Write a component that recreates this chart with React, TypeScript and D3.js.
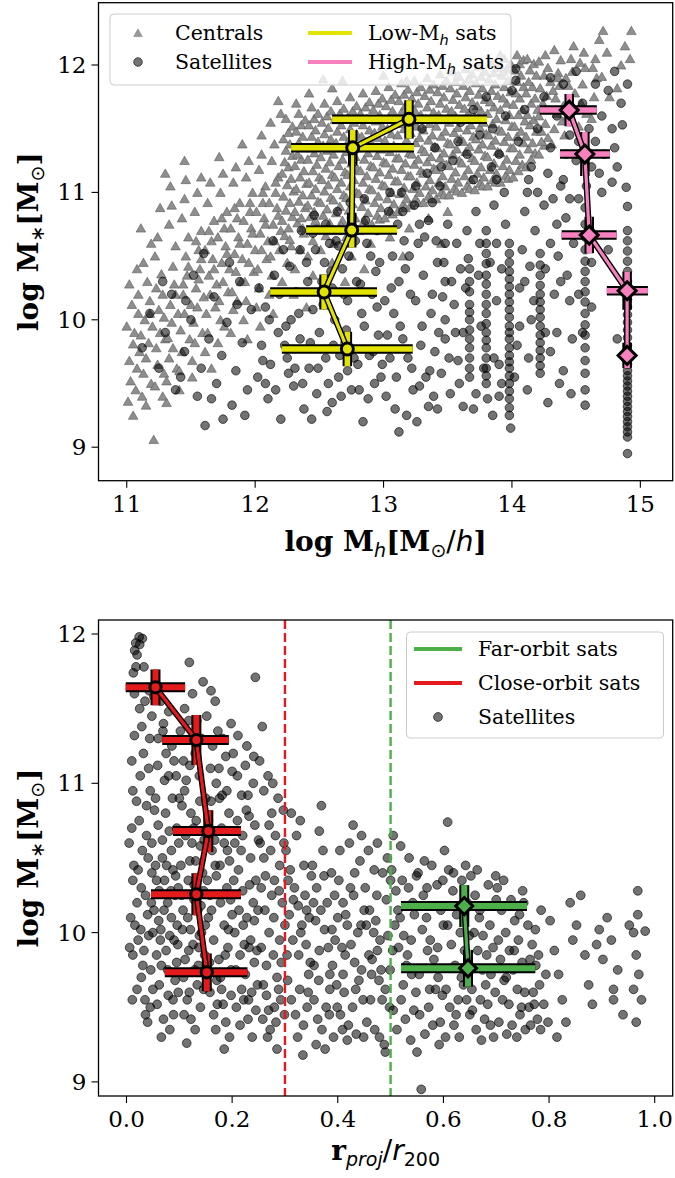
import React from "react";
import * as d3 from "d3";

type P = [number, number];
type E = { x: number; y: number; xlo: number; xhi: number; yerr: number };

// ---------- DATA ----------
// Top panel: centrals (log Mh, log M*)
const centralsLow: P[] = [
  [11.01,9.36],[11.03,9.52],[11.02,9.68],[11.05,9.81],[11.0,9.95],[11.04,10.12],[11.07,9.45],[11.08,9.62],[11.06,9.9],[11.09,10.05],[11.02,10.28],[11.08,10.4],[11.05,9.25],[11.1,9.75],[11.09,10.2],
  [11.12,9.4],[11.13,9.58],[11.15,9.7],[11.11,9.88],[11.14,10.0],[11.18,10.15],[11.16,10.3],[11.19,9.5],[11.17,9.82],[11.13,10.45],[11.19,10.6],[11.15,9.33],[11.2,9.95],[11.11,10.72],[11.18,10.05],
  [11.21,9.06],[11.22,9.48],[11.24,9.65],[11.23,9.78],[11.26,9.9],[11.25,10.08],[11.28,10.2],[11.27,10.36],[11.22,10.5],[11.29,9.58],[11.24,10.65],[11.3,9.85],[11.26,10.88],[11.28,9.4],[11.23,10.25],[11.29,10.02],
  [11.31,9.52],[11.33,9.7],[11.32,9.86],[11.35,9.98],[11.34,10.12],[11.37,10.28],[11.36,10.42],[11.38,10.58],[11.33,10.75],[11.39,9.62],[11.35,10.9],[11.4,10.05],[11.31,9.35],[11.38,10.2],[11.36,9.78],[11.34,11.05],
  [11.41,9.6],[11.43,9.75],[11.42,9.92],[11.45,10.05],[11.44,10.2],[11.47,10.35],[11.46,10.5],[11.48,10.65],[11.43,10.8],[11.49,9.85],[11.45,10.95],[11.5,10.12],[11.41,9.45],[11.48,10.42],[11.46,11.1],[11.44,10.28],
  [11.51,9.68],[11.53,9.82],[11.52,9.98],[11.55,10.1],[11.54,10.25],[11.57,10.4],[11.56,10.55],[11.58,10.7],[11.53,10.85],[11.59,9.9],[11.55,11.0],[11.6,10.18],[11.51,9.55],[11.58,10.48],[11.56,10.32],[11.54,10.62],
  [11.61,9.75],[11.63,9.9],[11.62,10.05],[11.65,10.2],[11.64,10.35],[11.67,10.48],[11.66,10.62],[11.68,10.78],[11.63,10.92],[11.69,10.1],[11.65,11.08],[11.7,10.28],[11.61,10.55],[11.68,10.4],[11.66,9.62],[11.64,10.7],
  [11.71,9.82],[11.73,10.0],[11.72,10.15],[11.75,10.3],[11.74,10.45],[11.77,10.58],[11.76,10.72],[11.78,10.85],[11.73,11.0],[11.79,10.22],[11.75,11.15],[11.8,10.4],[11.71,10.65],[11.78,10.52],[11.76,9.95],[11.74,10.8],
  [11.81,9.9],[11.83,10.08],[11.82,10.22],[11.85,10.38],[11.84,10.52],[11.87,10.65],[11.86,10.8],[11.88,10.92],[11.83,11.08],[11.89,10.3],[11.85,11.2],[11.9,10.48],[11.81,10.72],[11.88,10.6],[11.86,10.15],[11.84,10.88],
  [11.91,10.0],[11.93,10.15],[11.92,10.3],[11.95,10.45],[11.94,10.6],[11.97,10.72],[11.96,10.85],[11.98,11.0],[11.93,11.12],[11.99,10.38],[11.95,11.25],[12.0,10.55],[11.91,10.78],[11.98,10.68],[11.96,10.92],[11.94,9.85],
  [12.01,10.1],[12.03,10.25],[12.02,10.4],[12.05,10.55],[12.04,10.68],[12.07,10.8],[12.06,10.92],[12.08,11.05],[12.03,11.18],[12.09,10.48],[12.05,11.3],[12.1,10.62],[12.01,10.85],[12.08,10.75],[12.06,11.0],[12.04,9.95],
  [12.11,10.2],[12.13,10.35],[12.12,10.5],[12.15,10.62],[12.14,10.75],[12.17,10.88],[12.16,11.0],[12.18,11.12],[12.13,11.25],[12.19,10.55],[12.15,11.38],[12.2,10.7],[12.11,10.92],[12.18,10.82],[12.16,11.08],[12.14,10.05],
  [11.58,11.12],[11.72,11.28],[11.9,11.38],[12.05,11.45],[12.12,11.55],[12.2,11.62],[12.32,11.7],[12.42,11.78],[12.18,11.72],[12.6,11.82],[12.68,11.88],[11.45,11.25],[11.3,11.15],
];
const centralsCore: P[] = [
  [12.21,10.3],[12.25,10.45],[12.28,10.58],[12.23,10.66],[12.26,10.72],[12.21,10.78],[12.29,10.81],[12.24,10.86],[12.27,10.92],[12.22,10.97],[12.3,11.01],[12.25,11.06],[12.28,11.11],[12.21,11.15],[12.26,11.2],[12.23,11.24],[12.29,11.29],[12.24,11.33],[12.27,11.38],[12.22,11.42],[12.26,11.47],[12.29,11.52],[12.24,11.58],[12.27,10.63],
  [12.31,10.4],[12.35,10.55],[12.38,10.68],[12.33,10.76],[12.36,10.8],[12.31,10.85],[12.39,10.88],[12.34,10.93],[12.37,10.98],[12.32,11.03],[12.4,11.07],[12.35,11.12],[12.38,11.17],[12.31,11.21],[12.36,11.26],[12.33,11.3],[12.39,11.35],[12.34,11.39],[12.37,11.44],[12.32,11.48],[12.36,11.53],[12.39,11.57],[12.34,11.62],[12.37,10.72],
  [12.41,10.5],[12.45,10.62],[12.48,10.74],[12.43,10.81],[12.46,10.85],[12.41,10.9],[12.49,10.93],[12.44,10.98],[12.47,11.03],[12.42,11.08],[12.5,11.12],[12.45,11.17],[12.48,11.22],[12.41,11.26],[12.46,11.31],[12.43,11.35],[12.49,11.4],[12.44,11.44],[12.47,11.49],[12.42,11.53],[12.46,11.58],[12.49,11.62],[12.44,11.67],[12.47,10.78],
  [12.51,10.55],[12.55,10.66],[12.58,10.76],[12.53,10.82],[12.56,10.87],[12.51,10.92],[12.59,10.96],[12.54,11.01],[12.57,11.06],[12.52,11.1],[12.6,11.14],[12.55,11.19],[12.58,11.24],[12.51,11.28],[12.56,11.33],[12.53,11.37],[12.59,11.42],[12.54,11.46],[12.57,11.51],[12.52,11.55],[12.56,11.6],[12.59,11.64],[12.54,11.7],[12.57,10.7],
  [12.61,10.6],[12.65,10.7],[12.68,10.78],[12.63,10.84],[12.66,10.89],[12.61,10.94],[12.69,10.98],[12.64,11.03],[12.67,11.08],[12.62,11.12],[12.7,11.16],[12.65,11.21],[12.68,11.26],[12.61,11.3],[12.66,11.35],[12.63,11.39],[12.69,11.44],[12.64,11.48],[12.67,11.53],[12.62,11.57],[12.66,11.62],[12.69,11.66],[12.64,11.72],[12.67,10.74],
  [12.71,10.65],[12.75,10.74],[12.78,10.8],[12.73,10.86],[12.76,10.91],[12.71,10.96],[12.79,11.0],[12.74,11.05],[12.77,11.1],[12.72,11.14],[12.8,11.18],[12.75,11.23],[12.78,11.28],[12.71,11.32],[12.76,11.37],[12.73,11.41],[12.79,11.46],[12.74,11.5],[12.77,11.55],[12.72,11.59],[12.76,11.64],[12.79,11.68],[12.74,11.75],[12.77,10.7],
  [12.81,10.7],[12.85,10.78],[12.88,10.84],[12.83,10.89],[12.86,10.94],[12.81,10.99],[12.89,11.03],[12.84,11.08],[12.87,11.13],[12.82,11.17],[12.9,11.21],[12.85,11.26],[12.88,11.31],[12.81,11.35],[12.86,11.4],[12.83,11.44],[12.89,11.49],[12.84,11.53],[12.87,11.58],[12.82,11.62],[12.86,11.67],[12.89,11.71],[12.84,11.78],[12.87,10.74],
  [12.91,10.75],[12.95,10.82],[12.98,10.88],[12.93,10.92],[12.96,10.97],[12.91,11.02],[12.99,11.06],[12.94,11.11],[12.97,11.16],[12.92,11.2],[13.0,11.24],[12.95,11.29],[12.98,11.34],[12.91,11.38],[12.96,11.43],[12.93,11.47],[12.99,11.52],[12.94,11.56],[12.97,11.61],[12.92,11.65],[12.96,11.7],[12.99,11.74],[12.94,11.8],[12.97,10.79],
  [13.01,10.8],[13.05,10.86],[13.08,10.91],[13.03,10.95],[13.06,11.0],[13.01,11.05],[13.09,11.09],[13.04,11.14],[13.07,11.19],[13.02,11.23],[13.1,11.27],[13.05,11.32],[13.08,11.37],[13.01,11.41],[13.06,11.46],[13.03,11.5],[13.09,11.55],[13.04,11.59],[13.07,11.64],[13.02,11.68],[13.06,11.73],[13.09,11.77],[13.04,11.83],[13.07,10.83],
  [13.11,10.85],[13.15,10.9],[13.18,10.95],[13.13,10.99],[13.16,11.04],[13.11,11.09],[13.19,11.13],[13.14,11.18],[13.17,11.23],[13.12,11.27],[13.2,11.31],[13.15,11.36],[13.18,11.41],[13.11,11.45],[13.16,11.5],[13.13,11.54],[13.19,11.59],[13.14,11.63],[13.17,11.68],[13.12,11.72],[13.16,11.77],[13.19,11.81],[13.14,11.86],[13.17,10.88],
  [13.21,10.9],[13.25,10.95],[13.28,11.0],[13.23,11.03],[13.26,11.08],[13.21,11.13],[13.29,11.17],[13.24,11.22],[13.27,11.26],[13.22,11.3],[13.3,11.34],[13.25,11.39],[13.28,11.43],[13.21,11.47],[13.26,11.52],[13.23,11.56],[13.29,11.61],[13.24,11.65],[13.27,11.7],[13.22,11.74],[13.26,11.79],[13.29,11.83],[13.24,11.88],[13.27,10.92],
  [13.31,10.92],[13.35,10.97],[13.38,11.02],[13.33,11.05],[13.36,11.1],[13.31,11.15],[13.39,11.19],[13.34,11.24],[13.37,11.28],[13.32,11.32],[13.4,11.36],[13.35,11.41],[13.38,11.45],[13.31,11.49],[13.36,11.54],[13.33,11.58],[13.39,11.63],[13.34,11.67],[13.37,11.72],[13.32,11.76],[13.36,11.81],[13.39,11.85],[13.34,11.9],[13.37,10.95],
  [13.41,10.95],[13.45,11.0],[13.48,11.05],[13.43,11.08],[13.46,11.13],[13.41,11.18],[13.49,11.22],[13.44,11.27],[13.47,11.31],[13.42,11.35],[13.5,11.39],[13.45,11.44],[13.48,11.48],[13.41,11.52],[13.46,11.57],[13.43,11.61],[13.49,11.66],[13.44,11.7],[13.47,11.75],[13.42,11.79],[13.46,11.84],[13.49,11.88],[13.44,11.93],[13.47,10.98],
  [13.51,10.98],[13.55,11.03],[13.58,11.08],[13.53,11.11],[13.56,11.16],[13.51,11.21],[13.59,11.25],[13.54,11.3],[13.57,11.34],[13.52,11.38],[13.6,11.42],[13.55,11.47],[13.58,11.51],[13.51,11.55],[13.56,11.6],[13.53,11.64],[13.59,11.69],[13.54,11.73],[13.57,11.78],[13.52,11.82],[13.56,11.87],[13.59,11.91],[13.54,11.95],[13.57,11.01],
  [13.61,11.0],[13.65,11.05],[13.68,11.1],[13.63,11.13],[13.66,11.18],[13.61,11.23],[13.69,11.27],[13.64,11.32],[13.67,11.36],[13.62,11.4],[13.7,11.44],[13.65,11.49],[13.68,11.53],[13.61,11.57],[13.66,11.62],[13.63,11.66],[13.69,11.71],[13.64,11.75],[13.67,11.8],[13.62,11.84],[13.66,11.89],[13.69,11.93],[13.64,11.97],[13.67,11.03],
  [13.71,11.02],[13.75,11.07],[13.78,11.12],[13.73,11.15],[13.76,11.2],[13.71,11.25],[13.79,11.29],[13.74,11.34],[13.77,11.38],[13.72,11.42],[13.8,11.46],[13.75,11.51],[13.78,11.55],[13.71,11.59],[13.76,11.64],[13.73,11.68],[13.79,11.73],[13.74,11.77],[13.77,11.82],[13.72,11.86],[13.76,11.91],[13.79,11.95],[13.74,11.99],[13.77,11.05],
  [13.81,11.05],[13.85,11.1],[13.88,11.15],[13.83,11.18],[13.86,11.23],[13.81,11.28],[13.89,11.32],[13.84,11.37],[13.87,11.41],[13.82,11.45],[13.9,11.49],[13.85,11.54],[13.88,11.58],[13.81,11.62],[13.86,11.67],[13.83,11.71],[13.89,11.76],[13.84,11.8],[13.87,11.85],[13.82,11.89],[13.86,11.94],[13.89,11.98],[13.84,12.02],[13.87,11.08],
  [13.91,11.08],[13.95,11.13],[13.98,11.18],[13.93,11.21],[13.96,11.26],[13.91,11.31],[13.99,11.35],[13.94,11.4],[13.97,11.44],[13.92,11.48],[14.0,11.52],[13.95,11.57],[13.98,11.61],[13.91,11.65],[13.96,11.7],[13.93,11.74],[13.99,11.79],[13.94,11.83],[13.97,11.88],[13.92,11.92],[13.96,11.97],[13.99,12.01],[13.94,12.05],[13.97,11.11],
  [14.01,11.12],[14.05,11.17],[14.08,11.22],[14.03,11.25],[14.06,11.3],[14.01,11.35],[14.09,11.39],[14.04,11.44],[14.07,11.48],[14.02,11.52],[14.1,11.56],[14.05,11.61],[14.08,11.65],[14.01,11.69],[14.06,11.74],[14.03,11.78],[14.09,11.83],[14.04,11.87],[14.07,11.92],[14.02,11.96],[14.06,12.01],[14.09,12.04],[14.04,12.08],
  [14.11,11.2],[14.15,11.26],[14.18,11.31],[14.13,11.34],[14.16,11.39],[14.11,11.44],[14.19,11.48],[14.14,11.53],[14.17,11.57],[14.12,11.61],[14.2,11.65],[14.15,11.7],[14.18,11.74],[14.11,11.78],[14.16,11.83],[14.13,11.87],[14.19,11.92],[14.14,11.96],[14.17,12.01],[14.12,12.05],
  [14.21,11.3],[14.25,11.37],[14.28,11.43],[14.23,11.48],[14.26,11.54],[14.21,11.6],[14.29,11.65],[14.24,11.7],[14.27,11.76],[14.22,11.82],[14.3,11.87],[14.25,11.92],[14.28,11.98],[14.21,12.03],[14.26,12.08],[14.23,11.4],
];
const centralsHigh: P[] = [
  [14.31,11.38],[14.33,11.5],[14.35,11.62],[14.34,11.74],[14.37,11.84],[14.36,11.94],[14.38,12.04],[14.33,12.12],[14.39,11.56],[14.32,11.8],[14.4,11.68],[14.36,11.9],
  [14.41,11.45],[14.43,11.6],[14.45,11.72],[14.44,11.84],[14.47,11.95],[14.46,12.05],[14.48,12.15],[14.42,11.9],[14.49,11.78],
  [14.52,11.52],[14.54,11.7],[14.55,11.85],[14.57,11.98],[14.56,12.1],[14.58,11.62],[14.53,12.02],
  [14.62,11.58],[14.64,11.75],[14.66,11.9],[14.65,12.05],[14.68,12.2],[14.63,11.98],
  [14.71,12.27],[14.7,11.91],[14.74,12.1],[14.76,11.75],[14.82,11.82],[14.85,12.0],[14.88,12.15],[14.92,12.05],[14.93,12.27],
  [12.53,11.89],[13.0,11.92],[13.18,11.88],[13.58,11.92],[13.67,11.89],[13.91,12.08],[13.93,11.95],
  [12.3,10.2],[12.45,10.35],[12.6,10.45],[12.75,10.5],[12.9,10.6],[13.05,10.65],[13.2,10.72],[13.35,10.8],[13.5,10.85],[12.55,10.25],[12.85,10.4],[13.15,10.5],[13.45,10.6],[12.4,10.1],[12.7,10.3],
];

// Top panel: satellites (log Mh, log M*)
const satsTop: P[] = [
  [11.12,9.78],[11.18,10.05],[11.25,9.62],[11.3,9.9],[11.35,10.2],[11.42,9.55],[11.45,9.75],[11.5,10.0],[11.55,9.4],[11.58,9.62],[11.61,9.17],[11.64,9.85],[11.68,10.18],[11.7,9.5],[11.74,9.72],[11.78,9.98],[11.82,9.33],[11.85,9.6],[11.88,10.3],[11.9,9.82],[11.94,9.45],[11.97,10.08],[11.52,10.35],[11.38,9.45],[11.66,9.38],[11.8,10.45],[11.92,9.25],[11.6,10.52],[11.75,9.22],[11.86,10.12],[11.46,10.15],[11.28,10.3],
  [12.02,9.55],[12.05,9.8],[12.08,10.1],[12.1,9.38],[12.12,9.65],[12.15,10.35],[12.18,9.9],[12.2,9.22],[12.22,10.55],[12.25,9.7],[12.28,10.0],[12.3,9.48],[12.32,10.22],[12.35,9.85],[12.38,9.3],[12.4,10.45],[12.42,9.62],[12.45,10.08],[12.48,9.42],[12.5,9.9],[12.52,10.3],[12.55,9.7],[12.58,10.6],[12.6,9.35],[12.62,10.0],[12.65,9.55],[12.68,10.4],[12.7,9.82],[12.72,10.15],[12.75,9.45],[12.78,10.62],[12.8,9.65],[12.82,10.28],[12.85,9.95],[12.88,9.38],[12.9,10.5],[12.92,9.75],[12.95,10.1],[12.98,9.55],[12.08,9.5],[12.26,9.58],[12.44,9.22],[12.56,9.28],[12.66,9.72],[12.84,9.2],[12.96,9.88],[12.36,10.7],[12.46,10.82],[12.64,10.85],[12.86,10.78],[12.14,10.62],[12.54,10.45],[12.74,10.92],[12.94,10.38],[12.24,9.95],[12.72,9.6],[12.6,10.25],
  [12.03,10.25],[12.06,9.68],[12.11,10.0],[12.16,9.45],[12.19,10.2],[12.23,9.8],[12.27,10.42],[12.31,9.62],[12.34,10.05],[12.37,9.5],[12.41,10.3],[12.43,9.82],[12.47,10.55],[12.49,9.62],[12.53,10.12],[12.57,9.5],[12.59,10.38],[12.61,9.8],[12.63,10.62],[12.67,9.4],[12.69,10.2],[12.71,9.92],[12.73,10.5],[12.77,9.7],[12.79,10.3],[12.81,9.45],[12.83,10.05],[12.87,10.6],[12.89,9.72],[12.91,10.2],[12.93,9.5],[12.97,10.45],[12.99,9.65],
  [13.01,10.15],[13.03,9.88],[13.07,10.5],[13.09,9.3],[13.11,10.75],[13.13,9.95],[13.17,10.4],[13.19,9.7],[13.21,10.2],[13.23,9.45],[13.27,10.6],[13.29,9.8],[13.31,10.35],[13.33,9.55],[13.37,10.05],[13.39,9.4],[13.41,10.62],[13.43,9.9],[13.47,10.45],[13.51,9.7],[13.53,10.3],[13.57,10.6],[13.59,9.5],
  [12.35,10.55],[12.55,10.75],[12.75,10.8],[12.95,10.7],[13.15,10.85],[13.35,10.78],[12.45,10.68],[12.65,10.58],[12.85,10.95],[13.05,11.0],[13.25,11.05],[13.45,11.2],
  [13.02,9.4],[13.05,9.7],[13.08,10.05],[13.1,9.55],[13.12,10.3],[13.15,9.85],[13.18,9.25],[13.2,10.5],[13.22,9.62],[13.25,10.15],[13.28,9.48],[13.3,9.95],[13.32,10.65],[13.35,9.32],[13.38,10.2],[13.4,9.75],[13.42,10.45],[13.45,9.58],[13.48,10.0],[13.48,10.3],[13.48,10.6],[13.48,9.85],[13.5,10.75],[13.52,9.42],[13.55,10.12],[13.58,9.68],[13.6,10.4],[13.04,10.85],[13.14,11.0],[13.24,10.9],[13.34,11.15],[13.44,11.05],[13.54,11.25],[13.38,10.92],[13.58,11.4],[13.28,10.75],[13.16,10.62],[13.46,10.18],[13.36,9.6],[13.56,9.9],[13.06,10.25],[13.26,9.2],[13.42,9.3],[13.12,9.12],
  [13.67,9.55],[13.67,9.7],[13.67,9.85],[13.67,10.0],[13.67,10.12],[13.67,10.3],[13.66,10.48],[13.67,9.62],[13.67,9.78],[13.67,9.92],[13.67,10.06],[13.67,10.22],[13.67,10.4],
  [13.8,9.5],[13.8,9.62],[13.8,9.78],[13.8,9.9],[13.8,10.05],[13.8,10.2],[13.8,10.35],[13.8,10.52],[13.8,10.7],[13.81,9.38],[13.8,9.56],[13.8,9.7],[13.8,9.84],[13.8,9.97],[13.8,10.12],[13.8,10.28],[13.8,10.44],[13.8,10.6],
  [13.98,9.25],[13.98,9.38],[13.98,9.5],[13.98,9.62],[13.98,9.72],[13.98,9.85],[13.98,9.95],[13.98,10.08],[13.98,10.2],[13.98,10.32],[13.98,10.45],[13.98,10.6],[13.99,9.15],[13.98,9.31],[13.98,9.44],[13.98,9.56],[13.98,9.67],[13.98,9.78],[13.98,9.9],[13.98,10.02],[13.98,10.14],[13.98,10.26],[13.98,10.38],[13.98,10.52],
  [13.62,9.32],[13.72,9.42],[13.75,10.6],[13.85,9.25],[13.88,10.15],[13.9,9.65],[13.92,10.4],[13.72,10.85],[13.86,10.9],[13.94,11.0],[13.7,11.1],[13.84,11.2],[13.65,10.7],[13.76,9.95],[13.9,9.4],[14.04,9.8],[14.06,10.25],[14.08,10.55],
  [13.62,9.9],[13.64,10.25],[13.7,9.3],[13.74,10.35],[13.78,9.62],[13.83,10.45],[13.86,9.7],[13.88,10.6],[13.92,9.5],[13.95,10.75],[14.02,9.55],[14.06,9.95],[14.1,10.3],[14.13,9.7],[14.17,10.15],[14.26,10.4],[14.3,9.75],[14.33,10.2],[14.37,9.5],[14.43,10.35],[14.47,9.85],[14.35,10.75],[14.25,10.9],[14.45,10.95],[14.13,11.1],[14.28,11.15],[14.42,11.3],[14.52,11.4],[14.65,11.4],[14.7,11.0],[14.78,11.5],[14.82,11.2],
  [14.22,9.58],[14.22,9.7],[14.22,9.82],[14.22,9.95],[14.22,10.08],[14.22,10.2],[14.22,10.35],[14.22,10.52],[14.22,9.64],[14.22,9.76],[14.22,9.88],[14.22,10.02],[14.22,10.14],[14.22,10.27],[14.22,10.43],
  [14.12,9.45],[14.15,10.0],[14.18,10.7],[14.28,9.35],[14.3,10.6],[14.35,9.9],[14.38,10.3],[14.4,9.6],[14.42,10.8],[14.45,10.15],[14.14,10.42],[14.32,10.95],[14.26,9.9],[14.1,10.85],[14.46,9.42],[14.36,10.5],[14.2,11.0],[14.4,11.1],[14.48,10.6],
  [14.57,9.33],[14.57,9.45],[14.57,9.58],[14.57,9.68],[14.57,9.78],[14.57,9.88],[14.57,9.96],[14.57,10.05],[14.57,10.14],[14.57,10.22],[14.57,10.3],[14.57,10.38],[14.57,10.46],[14.57,10.55],[14.57,10.65],[14.57,10.75],[14.57,10.88],[14.52,10.2],[14.55,9.9],[14.62,10.1],[14.6,10.7],[14.52,10.95],[14.62,10.45],[14.58,11.05],
  [14.9,8.95],[14.9,9.08],[14.9,9.12],[14.9,9.16],[14.9,9.2],[14.9,9.24],[14.9,9.28],[14.9,9.32],[14.9,9.36],[14.9,9.4],[14.9,9.44],[14.9,9.48],[14.9,9.52],[14.9,9.56],[14.9,9.6],[14.9,9.65],[14.9,9.7],[14.9,9.75],[14.9,9.8],[14.9,9.86],[14.9,9.92],[14.9,9.98],[14.9,10.04],[14.9,10.1],[14.9,10.16],[14.9,10.22],[14.9,10.3],[14.9,10.38],[14.9,10.46],[14.9,10.54],[14.9,10.62],[14.9,10.7],[14.9,10.89],[14.89,11.04],[14.78,11.08],[14.86,11.53],[14.8,11.35],[14.75,10.55],[14.82,9.85],
  [13.6,11.55],[13.65,11.3],[13.7,11.65],[13.75,11.45],[13.8,11.75],[13.85,11.5],[13.9,11.3],[13.95,11.6],[14.0,11.8],[14.05,11.4],[14.1,11.65],[14.15,11.2],[14.2,11.5],[14.25,11.75],[14.3,11.35],[14.35,11.6],[14.4,11.85],[14.45,11.45],[14.5,11.25],[14.55,11.7],[14.6,11.5],[14.65,11.85],[14.7,11.6],[14.72,11.3],[14.68,11.15],[14.3,11.9],[14.5,11.95],[14.75,11.8],[14.85,11.7],[14.8,11.95],[14.9,11.85],[13.88,11.1],[14.12,11.0],[14.38,11.05],[14.62,11.2],[13.4,11.35],[13.3,11.5],[14.03,11.97],[14.03,11.88],
];

// Bottom panel: satellites (r_proj / r200, log M*)
const satsBottom: P[] = [
  [0.012,10.95],[0.015,11.32],[0.02,11.86],[0.025,11.93],[0.018,11.78],[0.03,11.97],[0.01,10.7],[0.014,10.45],[0.02,10.2],[0.016,10.05],[0.022,9.95],[0.012,9.85],[0.028,9.7],[0.035,9.55],[0.04,9.4],[0.045,9.5],[0.03,10.55],[0.038,10.85],[0.042,11.1],[0.025,11.5],[0.035,11.55],[0.048,11.45],[0.015,11.6],[0.032,11.2],[0.045,10.95],[0.028,10.3],[0.04,10.12],[0.048,10.4],[0.033,9.88],[0.046,9.75],[0.02,9.62],[0.038,10.65],[0.026,11.05],[0.044,11.3],[0.05,10.0],[0.012,10.35],[0.036,9.45],[0.042,9.98],[0.024,10.75],[0.048,10.6],
  [0.024,11.98],[0.0175,11.94],[0.0155,11.89],[0.119,11.81],[0.013,11.74],[0.033,11.78],[0.244,11.71],[0.608,10.74],
  [0.052,11.58],[0.058,11.62],[0.065,11.55],[0.07,11.4],[0.075,11.2],[0.08,11.05],[0.055,10.9],[0.06,10.72],[0.068,10.5],[0.072,10.35],[0.078,10.2],[0.085,10.1],[0.09,9.95],[0.095,9.8],[0.062,9.65],[0.058,9.52],[0.07,9.42],[0.082,9.35],[0.088,9.55],[0.092,9.68],[0.098,10.3],[0.052,10.15],[0.065,10.02],[0.075,9.88],[0.085,10.55],[0.095,10.7],[0.06,11.3],[0.08,11.48],[0.09,11.15],[0.1,10.9],[0.055,10.45],[0.068,10.62],[0.078,9.75],[0.088,10.42],[0.098,9.6],[0.072,11.02],[0.062,10.28],[0.082,9.98],[0.092,10.25],[0.057,9.85],[0.066,9.3],[0.096,10.05],[0.086,11.25],[0.074,10.8],
  [0.102,11.35],[0.11,11.5],[0.118,11.42],[0.125,11.6],[0.13,11.2],[0.138,11.05],[0.145,11.68],[0.105,10.85],[0.112,10.65],[0.12,10.48],[0.128,10.32],[0.135,10.15],[0.142,10.0],[0.148,9.85],[0.108,9.7],[0.115,9.55],[0.122,9.42],[0.13,9.35],[0.14,9.5],[0.146,9.62],[0.104,10.25],[0.116,10.1],[0.126,9.92],[0.136,9.78],[0.144,10.4],[0.11,10.95],[0.12,11.12],[0.132,10.75],[0.14,10.58],[0.15,10.9],[0.106,10.02],[0.124,10.6],[0.134,9.65],[0.118,9.88],[0.128,10.22],[0.142,11.3],[0.114,9.26],[0.146,10.28],[0.108,11.15],[0.138,9.98],[0.122,10.8],[0.15,9.72],
  [0.152,11.45],[0.16,11.62],[0.168,11.55],[0.175,11.1],[0.182,11.3],[0.19,10.95],[0.198,11.4],[0.155,10.75],[0.162,10.55],[0.17,10.38],[0.178,10.2],[0.185,10.05],[0.192,9.9],[0.198,9.75],[0.158,9.6],[0.165,9.45],[0.172,9.52],[0.18,9.62],[0.188,9.4],[0.195,9.3],[0.155,10.1],[0.165,9.95],[0.175,9.82],[0.185,10.6],[0.195,10.48],[0.16,10.88],[0.17,11.0],[0.18,10.7],[0.19,10.3],[0.2,10.12],[0.158,10.25],[0.168,10.45],[0.178,9.7],[0.188,11.18],[0.198,9.58],[0.163,11.25],[0.176,10.9],[0.194,10.8],[0.2,11.08],[0.185,9.22],
  [0.202,11.2],[0.21,11.05],[0.218,10.92],[0.225,11.12],[0.232,10.78],[0.24,11.0],[0.205,10.6],[0.212,10.42],[0.22,10.28],[0.228,10.1],[0.235,9.95],[0.242,9.8],[0.248,9.65],[0.208,9.5],[0.215,9.38],[0.222,9.55],[0.23,9.42],[0.238,9.3],[0.245,9.48],[0.205,10.0],[0.215,9.85],[0.225,9.72],[0.235,10.5],[0.245,10.35],[0.21,10.75],[0.22,10.65],[0.23,10.92],[0.24,10.2],[0.25,10.62],[0.228,11.25],[0.218,9.62],[0.242,10.08],[0.232,9.9],
  [0.252,11.15],[0.26,10.95],[0.268,11.05],[0.275,10.8],[0.282,10.65],[0.29,10.45],[0.298,10.6],[0.255,10.3],[0.262,10.15],[0.27,10.0],[0.278,9.85],[0.285,9.7],[0.292,9.55],[0.258,9.42],[0.265,9.58],[0.272,9.35],[0.28,9.5],[0.288,9.62],[0.295,10.2],[0.26,10.5],[0.27,10.72],[0.28,10.35],[0.29,9.95],[0.3,10.05],[0.285,9.22],[0.265,9.78],[0.275,10.25],[0.255,9.9],
  [0.005,10.6],[0.008,10.1],[0.006,9.9],[0.01,11.15],[0.022,10.42],[0.027,10.02],[0.031,9.78],[0.036,10.25],[0.041,10.5],[0.047,10.2],[0.019,10.88],[0.029,11.38],[0.043,11.62],[0.05,9.62],[0.011,9.55],[0.053,10.82],[0.057,10.35],[0.061,10.08],[0.066,9.78],[0.071,10.15],[0.076,10.45],[0.081,10.68],[0.087,10.9],[0.093,10.38],[0.097,9.92],[0.059,11.12],[0.069,11.35],[0.079,9.58],[0.089,9.45],[0.099,10.6],[0.064,9.95],[0.084,10.28],[0.094,11.05],
  [0.103,10.45],[0.107,10.15],[0.111,9.82],[0.117,10.35],[0.121,10.02],[0.127,10.7],[0.131,10.48],[0.137,9.9],[0.141,10.18],[0.147,10.62],[0.109,9.45],[0.119,9.6],[0.129,9.75],[0.139,10.88],[0.149,10.05],[0.113,11.02],[0.133,11.42],[0.153,10.35],[0.157,9.8],[0.161,10.15],[0.167,10.62],[0.171,9.68],[0.177,10.45],[0.181,10.92],[0.187,9.85],[0.191,10.55],[0.197,10.22],[0.159,11.1],[0.173,11.35],[0.183,9.52],[0.193,10.02],[0.169,9.35],
  [0.203,10.35],[0.207,9.75],[0.213,10.15],[0.217,10.55],[0.223,9.92],[0.227,10.82],[0.233,10.32],[0.237,9.6],[0.243,10.72],[0.247,9.88],[0.211,11.32],[0.221,10.05],[0.231,9.55],[0.241,11.18],[0.249,10.15],[0.253,10.6],[0.259,9.65],[0.263,10.38],[0.269,9.48],[0.273,10.55],[0.279,10.1],[0.283,9.4],[0.289,10.28],[0.293,9.8],[0.297,10.82],[0.257,11.38],[0.267,9.3],[0.277,11.0],[0.287,10.9],[0.299,9.45],
  [0.302,10.55],[0.31,10.42],[0.318,10.3],[0.325,10.18],[0.332,10.05],[0.34,9.92],[0.348,9.8],[0.305,9.68],[0.312,9.55],[0.32,9.45],[0.328,9.62],[0.335,9.38],[0.342,9.5],[0.308,10.12],[0.315,9.95],[0.322,10.65],[0.33,10.0],[0.338,10.25],[0.345,9.72],[0.35,10.38],[0.334,9.18],[0.312,10.8],[0.326,9.85],[0.346,10.1],
  [0.304,9.85],[0.316,10.22],[0.324,9.3],[0.336,10.45],[0.344,9.6],[0.306,10.35],[0.329,10.75],[0.341,10.15],
  [0.352,10.45],[0.36,10.3],[0.368,10.15],[0.375,10.02],[0.382,9.9],[0.39,9.78],[0.398,9.65],[0.355,9.55],[0.362,9.42],[0.37,9.35],[0.378,9.5],[0.385,9.62],[0.392,9.3],[0.358,10.08],[0.365,9.88],[0.372,10.55],[0.38,10.2],[0.388,10.4],[0.395,9.95],[0.4,10.1],[0.376,9.22],[0.365,10.68],[0.385,9.72],[0.355,9.78],
  [0.354,10.2],[0.364,9.68],[0.374,10.38],[0.384,9.45],[0.394,10.25],[0.359,9.25],[0.369,10.85],[0.389,10.02],[0.399,9.5],
  [0.402,10.35],[0.41,10.2],[0.418,10.05],[0.425,9.92],[0.432,9.8],[0.44,9.68],[0.448,9.55],[0.405,9.45],[0.412,9.6],[0.42,9.38],[0.428,9.5],[0.435,9.32],[0.442,10.48],[0.408,9.9],[0.415,10.12],[0.422,10.6],[0.43,10.25],[0.438,10.0],[0.445,9.75],[0.45,10.15],[0.418,9.28],[0.432,10.4],[0.445,10.65],[0.41,9.72],
  [0.404,10.55],[0.414,9.85],[0.424,10.3],[0.434,9.62],[0.444,10.05],[0.409,9.35],[0.429,10.72],[0.449,9.3],
  [0.452,10.3],[0.46,10.15],[0.468,10.0],[0.475,9.88],[0.482,9.75],[0.49,9.62],[0.498,9.5],[0.455,9.4],[0.462,9.55],[0.47,9.35],[0.478,9.68],[0.485,10.4],[0.492,10.22],[0.458,10.55],[0.465,9.82],[0.472,10.08],[0.48,9.95],[0.488,9.25],[0.495,9.98],[0.5,10.35],[0.49,9.2],[0.475,10.6],
  [0.454,10.05],[0.464,9.72],[0.474,10.25],[0.484,9.55],[0.494,10.5],[0.459,9.85],[0.469,10.42],[0.479,9.3],[0.499,9.75],
  [0.502,10.42],[0.51,10.28],[0.518,10.1],[0.525,9.98],[0.532,9.85],[0.54,9.72],[0.548,9.6],[0.505,9.48],[0.512,9.35],[0.52,9.55],[0.528,9.42],[0.535,10.5],[0.542,10.2],[0.508,10.05],[0.515,9.9],[0.522,10.35],[0.53,9.78],[0.538,9.28],[0.545,10.12],[0.55,9.2],[0.505,10.65],
  [0.504,9.88],[0.514,10.15],[0.524,9.65],[0.534,10.3],[0.544,9.48],[0.519,10.58],[0.539,9.95],[0.549,10.38],
  [0.552,10.4],[0.558,8.95],[0.562,10.25],[0.568,10.1],[0.575,9.95],[0.582,9.82],[0.59,9.7],[0.598,9.58],[0.555,9.45],[0.565,9.32],[0.572,9.5],[0.58,9.38],[0.588,10.32],[0.595,10.15],[0.56,10.02],[0.57,9.88],[0.578,10.45],[0.585,9.62],[0.592,9.25],[0.6,10.05],
  [0.554,9.72],[0.564,10.48],[0.574,9.62],[0.584,10.18],[0.594,9.4],[0.569,10.3],[0.589,9.9],[0.599,10.35],
  [0.602,10.55],[0.61,10.42],[0.618,10.28],[0.625,10.12],[0.632,10.0],[0.64,9.88],[0.648,9.75],[0.605,9.62],[0.612,9.5],[0.62,9.38],[0.628,9.55],[0.635,10.35],[0.642,10.45],[0.608,10.05],[0.615,9.92],[0.622,9.78],[0.63,9.3],[0.638,9.65],[0.645,10.2],[0.65,9.45],
  [0.604,9.3],[0.614,10.18],[0.624,9.45],[0.634,9.7],[0.644,9.55],[0.619,10.4],[0.639,10.1],[0.649,9.98],
  [0.652,10.38],[0.66,10.25],[0.668,10.1],[0.675,9.98],[0.682,9.85],[0.69,9.72],[0.698,9.6],[0.655,9.48],[0.662,9.35],[0.67,9.55],[0.678,9.42],[0.685,10.32],[0.692,10.18],[0.658,10.0],[0.665,9.88],[0.672,9.28],[0.68,9.65],[0.688,10.05],[0.695,9.3],[0.7,10.22],
  [0.654,9.62],[0.664,10.42],[0.674,9.75],[0.684,9.52],[0.694,9.9],[0.669,10.15],[0.689,9.38],[0.699,10.38],
  [0.702,10.3],[0.71,10.15],[0.718,10.0],[0.725,9.88],[0.732,9.75],[0.74,9.62],[0.748,9.5],[0.705,9.4],[0.712,9.55],[0.72,9.32],[0.728,10.22],[0.735,10.08],[0.742,9.95],[0.708,9.82],[0.715,9.68],[0.745,9.45],[0.73,9.38],[0.75,10.28],
  [0.704,9.95],[0.714,10.35],[0.724,9.52],[0.734,9.88],[0.744,10.12],[0.719,9.7],[0.739,9.3],[0.749,9.8],
  [0.752,10.2],[0.76,10.05],[0.768,9.92],[0.775,9.78],[0.782,9.65],[0.79,9.52],[0.798,9.4],[0.755,9.35],[0.762,9.5],[0.77,9.6],[0.778,9.42],[0.785,10.15],[0.765,9.38],[0.78,9.85],
  [0.754,9.6],[0.764,9.82],[0.774,10.02],[0.784,9.35],[0.794,9.72],[0.772,9.52],
  [0.802,10.08],[0.81,9.88],[0.818,9.72],[0.825,9.55],[0.832,9.4],[0.84,10.2],[0.845,9.95],[0.815,9.3],
  [0.852,10.05],[0.86,10.25],[0.868,9.85],[0.875,9.65],[0.882,9.52],[0.89,9.92],[0.895,10.02],
  [0.902,9.82],[0.91,10.1],[0.918,9.95],[0.922,9.62],[0.93,9.75],[0.94,9.45],[0.922,9.55],
  [0.952,10.05],[0.96,10.0],[0.965,9.85],[0.968,10.12],[0.97,9.72],[0.975,9.55],[0.965,9.4],[0.982,10.01],[0.968,10.28],[0.96,9.62],
];

// Binned medians with error bars
const lowMhSats: E[] = [
  { x: 12.718, y: 9.771, xlo: 12.208, xhi: 13.227, yerr: 0.135 },
  { x: 12.537, y: 10.218, xlo: 12.117, xhi: 12.949, yerr: 0.137 },
  { x: 12.752, y: 10.704, xlo: 12.397, xhi: 13.105, yerr: 0.137 },
  { x: 12.76, y: 11.35, xlo: 12.28, xhi: 13.237, yerr: 0.14 },
  { x: 13.198, y: 11.574, xlo: 12.599, xhi: 13.806, yerr: 0.15 },
];
const highMhSats: E[] = [
  { x: 14.446, y: 11.646, xlo: 14.217, xhi: 14.661, yerr: 0.126 },
  { x: 14.568, y: 11.301, xlo: 14.374, xhi: 14.763, yerr: 0.173 },
  { x: 14.602, y: 10.665, xlo: 14.387, xhi: 14.815, yerr: 0.143 },
  { x: 14.897, y: 10.228, xlo: 14.739, xhi: 15.059, yerr: 0.15 },
  { x: 14.897, y: 9.72, xlo: 14.88, xhi: 14.915, yerr: 0.1 },
];
const closeOrbitSats: E[] = [
  { x: 0.0549, y: 11.643, xlo: -0.0015, xhi: 0.111, yerr: 0.12 },
  { x: 0.1323, y: 11.29, xlo: 0.0676, xhi: 0.1937, yerr: 0.167 },
  { x: 0.1549, y: 10.68, xlo: 0.088, xhi: 0.2168, yerr: 0.14 },
  { x: 0.1323, y: 10.257, xlo: 0.0464, xhi: 0.2168, yerr: 0.14 },
  { x: 0.152, y: 9.734, xlo: 0.0725, xhi: 0.229, yerr: 0.126 },
];
const farOrbitSats: E[] = [
  { x: 0.6395, y: 10.178, xlo: 0.5197, xhi: 0.7583, yerr: 0.14 },
  { x: 0.6466, y: 9.761, xlo: 0.5197, xhi: 0.774, yerr: 0.123 },
];
const orbitCuts = [0.3, 0.5];

const topXTicks = [11, 12, 13, 14, 15];
const topYTicks = [9, 10, 11, 12];
const botXTicks = [0, 0.2, 0.4, 0.6, 0.8, 1.0];
const botYTicks = [9, 10, 11, 12];

// ---------- STYLE ----------
const SERIF = "'DejaVu Serif', serif";
const SANS = "'DejaVu Sans', sans-serif";
const YELLOW = "#e3e300";
const PINK = "#f781bf";
const RED = "#e41a1c";
const GREEN = "#4daf4a";
const TICK_FS = 23;
const LEG_FS = 20.5;
const LAB_FS = 28;

const TRI = "M0,-4.4L4.8,4L-4.8,4Z";

function ErrSeries({ data, xs, ys, color, marker, barW, lineW, msize }: any) {
  const lineGen = d3.line<E>().x((d) => xs(d.x)).y((d) => ys(d.y));
  const path = lineGen(data) || "";
  const bars = data.map((d: E) => ({
    h: [xs(d.xlo), ys(d.y), xs(d.xhi), ys(d.y)],
    v: [xs(d.x), ys(d.y - d.yerr), xs(d.x), ys(d.y + d.yerr)],
  }));
  const seg = (c: number[], stroke: string, w: number, k: string) => (
    <line key={k} x1={c[0]} y1={c[1]} x2={c[2]} y2={c[3]} stroke={stroke} strokeWidth={w} />
  );
  return (
    <g>
      {bars.map((b: any, i: number) => [seg(b.h, "#000", barW + 4, "bh" + i), seg(b.v, "#000", barW + 4, "bv" + i)])}
      {bars.map((b: any, i: number) => [seg(b.h, color, barW, "ch" + i), seg(b.v, color, barW, "cv" + i)])}
      <path d={path} fill="none" stroke="#000" strokeWidth={lineW + 2.8} strokeLinejoin="round" />
      <path d={path} fill="none" stroke={color} strokeWidth={lineW} strokeLinejoin="round" />
      {data.map((d: E, i: number) =>
        marker === "circle" ? (
          <circle key={"m" + i} cx={xs(d.x)} cy={ys(d.y)} r={msize} fill={color} stroke="#000" strokeWidth={3} />
        ) : (
          <path
            key={"m" + i}
            d={`M0,${-msize}L${msize},0L0,${msize}L${-msize},0Z`}
            transform={`translate(${xs(d.x)},${ys(d.y)})`}
            fill={color}
            stroke="#000"
            strokeWidth={3}
            strokeLinejoin="miter"
          />
        )
      )}
    </g>
  );
}

function Axes({ x, y, xTicks, yTicks, fmt, left, right, top, bottom }: any) {
  return (
    <g>
      <rect x={left} y={top} width={right - left} height={bottom - top} fill="none" stroke="#000" strokeWidth={1.3} />
      {xTicks.map((t: number) => (
        <g key={"x" + t}>
          <line x1={x(t)} x2={x(t)} y1={bottom} y2={bottom + 7} stroke="#000" strokeWidth={1.1} />
          <text x={x(t)} y={bottom + 31} textAnchor="middle" fontFamily={SERIF} fontSize={TICK_FS} fill="#000">
            {fmt(t)}
          </text>
        </g>
      ))}
      {yTicks.map((t: number) => (
        <g key={"y" + t}>
          <line x1={left - 7} x2={left} y1={y(t)} y2={y(t)} stroke="#000" strokeWidth={1.1} />
          <text x={left - 12} y={y(t) + 8} textAnchor="end" fontFamily={SERIF} fontSize={TICK_FS} fill="#000">
            {t}
          </text>
        </g>
      ))}
    </g>
  );
}

function YLabel({ cx, cy }: any) {
  return (
    <text
      transform={`translate(${cx},${cy}) rotate(-90)`}
      textAnchor="middle"
      fontFamily={SERIF}
      fontWeight="bold"
      fontSize={LAB_FS}
      fill="#000"
    >
      log M
      <tspan dy={6} fontSize={19} fontFamily={SANS} fontWeight="normal">∗</tspan>
      <tspan dy={-6}>[M</tspan>
      <tspan dy={6} fontSize={19} fontFamily={SANS} fontWeight="normal">⊙</tspan>
      <tspan dy={-6}>]</tspan>
    </text>
  );
}

const SAT_STYLE = { fill: "#000", fillOpacity: 0.55, stroke: "#000", strokeOpacity: 0.6, strokeWidth: 1 };

export default function App() {
  const L = 98.5, R = 672.7;
  const tTop = 2.7, tBot = 480.7;
  const bTop = 620, bBot = 1096;
  const tx = d3.scaleLinear().domain([10.78, 15.252]).range([L, R]);
  const ty = d3.scaleLinear().domain([8.737, 12.489]).range([tBot, tTop]);
  const bx = d3.scaleLinear().domain([-0.053, 1.0341]).range([L, R]);
  const by = d3.scaleLinear().domain([8.9056, 12.0938]).range([bBot, bTop]);

  const centrals = [...centralsLow, ...centralsCore, ...centralsHigh];

  return (
    <svg width={675} height={1178} style={{ position: "absolute", left: 0, top: 0, display: "block", background: "#fff" }}>
      <defs>
        <clipPath id="clipTop"><rect x={L} y={tTop} width={R - L} height={tBot - tTop} /></clipPath>
        <clipPath id="clipBot"><rect x={L} y={bTop} width={R - L} height={bBot - bTop} /></clipPath>
      </defs>
      <rect x={0} y={0} width={675} height={1178} fill="#fff" />

      {/* ---------------- TOP PANEL ---------------- */}
      <g clipPath="url(#clipTop)">
        {centrals.map((d, i) => (
          <path key={"c" + i} d={TRI} transform={`translate(${tx(d[0])},${ty(d[1])})`} fill="#8e8e8e" stroke="#5a5a5a" strokeWidth={0.6} />
        ))}
        {satsTop.map((d, i) => (
          <circle key={"s" + i} cx={tx(d[0])} cy={ty(d[1])} r={4.3} {...SAT_STYLE} />
        ))}
        <ErrSeries data={lowMhSats} xs={tx} ys={ty} color={YELLOW} marker="circle" barW={5.5} lineW={3.2} msize={6} />
        <ErrSeries data={highMhSats} xs={tx} ys={ty} color={PINK} marker="diamond" barW={5.5} lineW={3.2} msize={9} />
      </g>
      <Axes x={tx} y={ty} xTicks={topXTicks} yTicks={topYTicks} fmt={(t: number) => String(t)} left={L} right={R} top={tTop} bottom={tBot} />

      {/* top legend */}
      <g>
        <rect x={110} y={14} width={401} height={71} rx={4} fill="#fff" fillOpacity={0.8} stroke="#cccccc" strokeWidth={1} />
        <path d={TRI} transform="translate(138,33) scale(0.9)" fill="#9a9a9a" stroke="#777" strokeWidth={0.6} />
        <text x={175} y={40} fontFamily={SERIF} fontSize={LEG_FS}>Centrals</text>
        <circle cx={138} cy={62} r={4.3} {...SAT_STYLE} />
        <text x={175} y={69} fontFamily={SERIF} fontSize={LEG_FS}>Satellites</text>
        <line x1={308} x2={352} y1={33} y2={33} stroke={YELLOW} strokeWidth={4} />
        <text x={368} y={40} fontFamily={SERIF} fontSize={LEG_FS}>
          Low-M<tspan dy={5} fontSize={14.5} fontFamily={SANS} fontStyle="italic">h</tspan>
          <tspan dy={-5}> sats</tspan>
        </text>
        <line x1={308} x2={352} y1={62} y2={62} stroke={PINK} strokeWidth={4} />
        <text x={368} y={69} fontFamily={SERIF} fontSize={LEG_FS}>
          High-M<tspan dy={5} fontSize={14.5} fontFamily={SANS} fontStyle="italic">h</tspan>
          <tspan dy={-5}> sats</tspan>
        </text>
      </g>

      {/* top axis labels */}
      <text x={(L + R) / 2} y={551} textAnchor="middle" fontFamily={SERIF} fontWeight="bold" fontSize={LAB_FS} fill="#000">
        log M
        <tspan dy={6} fontSize={19} fontFamily={SANS} fontStyle="italic" fontWeight="normal">h</tspan>
        <tspan dy={-6}>[M</tspan>
        <tspan dy={6} fontSize={19} fontFamily={SANS} fontWeight="normal">⊙</tspan>
        <tspan dy={-6} fontFamily={SANS} fontWeight="normal">/</tspan>
        <tspan fontFamily={SANS} fontStyle="italic" fontWeight="normal">h</tspan>
        <tspan>]</tspan>
      </text>
      <YLabel cx={38} cy={(tTop + tBot) / 2} />

      {/* ---------------- BOTTOM PANEL ---------------- */}
      <g clipPath="url(#clipBot)">
        {satsBottom.map((d, i) => (
          <circle key={"b" + i} cx={bx(d[0])} cy={by(d[1])} r={4.4} {...SAT_STYLE} />
        ))}
        {orbitCuts.map((c, i) => (
          <line key={"cut" + i} x1={bx(c)} x2={bx(c)} y1={bTop} y2={bBot} stroke={i === 0 ? RED : GREEN} strokeWidth={2.4} strokeDasharray="9 4" />
        ))}
        <ErrSeries data={closeOrbitSats} xs={bx} ys={by} color={RED} marker="circle" barW={6} lineW={3.2} msize={5.6} />
        <ErrSeries data={farOrbitSats} xs={bx} ys={by} color={GREEN} marker="diamond" barW={6} lineW={3.2} msize={8.5} />
      </g>
      <Axes x={bx} y={by} xTicks={botXTicks} yTicks={botYTicks} fmt={(t: number) => t.toFixed(1)} left={L} right={R} top={bTop} bottom={bBot} />

      {/* bottom legend */}
      <g>
        <rect x={406.5} y={632} width={257} height={106} rx={4} fill="#fff" fillOpacity={0.8} stroke="#cccccc" strokeWidth={1} />
        <line x1={414} x2={462} y1={649} y2={649} stroke={GREEN} strokeWidth={4} />
        <text x={478} y={656} fontFamily={SERIF} fontSize={LEG_FS}>Far-orbit sats</text>
        <line x1={414} x2={462} y1={683} y2={683} stroke={RED} strokeWidth={4} />
        <text x={478} y={690} fontFamily={SERIF} fontSize={LEG_FS}>Close-orbit sats</text>
        <circle cx={438} cy={717} r={4.4} {...SAT_STYLE} />
        <text x={478} y={724} fontFamily={SERIF} fontSize={LEG_FS}>Satellites</text>
      </g>

      {/* bottom axis labels */}
      <text x={(L + R) / 2} y={1160} textAnchor="middle" fontFamily={SERIF} fontSize={LAB_FS} fill="#000">
        <tspan fontWeight="bold">r</tspan>
        <tspan dy={6} fontSize={19} fontFamily={SANS} fontStyle="italic">proj</tspan>
        <tspan dy={-6} fontFamily={SANS}>/</tspan>
        <tspan fontFamily={SANS} fontStyle="italic">r</tspan>
        <tspan dy={6} fontSize={19} fontFamily={SANS}>200</tspan>
      </text>
      <YLabel cx={38} cy={(bTop + bBot) / 2} />
    </svg>
  );
}
